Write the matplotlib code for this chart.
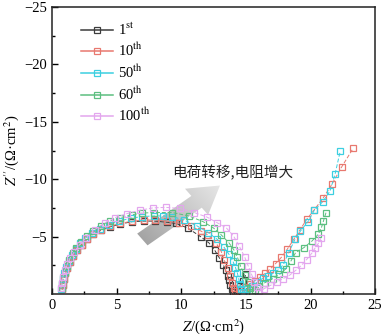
import numpy as np
import matplotlib
matplotlib.use("Agg")
import matplotlib.pyplot as plt
from matplotlib.patches import FancyArrow
from matplotlib.lines import Line2D
from matplotlib.colors import LinearSegmentedColormap

plt.rcParams['font.family'] = ['Liberation Serif', 'Noto Sans CJK SC', 'DejaVu Sans']
plt.rcParams['mathtext.fontset'] = 'stix'

# Nyquist data (Z' , Z'')
x_1st = [0.8, 0.85, 0.95, 1.05, 1.2, 1.4, 1.65, 1.95, 2.3, 2.7, 3.2, 3.8, 4.5, 5.3, 6.2, 7.1, 8.0, 8.9,
         9.6, 10.5, 11.5, 12.15, 12.6, 12.95, 13.25, 13.45, 13.6, 13.7, 13.8, 13.9, 14.0,
         14.3, 14.55, 14.8, 15.0]
y_1st = [-0.4, -0.8, -1.3, -1.8, -2.3, -2.8, -3.3, -3.8, -4.3, -4.75, -5.2, -5.55, -5.85, -6.1, -6.3, -6.35, -6.35, -6.25,
         -6.15, -5.75, -5.0, -4.45, -3.8, -3.15, -2.55, -2.05, -1.6, -1.2, -0.8, -0.4, -0.15,
         -0.3, -0.7, -1.15, -1.7]

x_10th = [0.8, 0.85, 0.95, 1.05, 1.2, 1.4, 1.65, 1.95, 2.3, 2.7, 3.2, 3.8, 4.5, 5.3, 6.2, 7.1, 8.0, 8.9,
          9.8, 10.75, 11.5, 12.05, 12.7, 13.1, 13.3, 13.6, 13.8, 13.95, 14.05, 14.15,
          14.5, 14.9, 15.3, 15.7, 16.1, 16.5, 16.9, 17.3, 17.75, 18.2, 18.7, 19.2, 19.7, 20.3,
          21.0, 21.65, 22.4, 23.3]
y_10th = [-0.4, -0.8, -1.3, -1.8, -2.3, -2.8, -3.3, -3.8, -4.3, -4.75, -5.2, -5.6, -5.9, -6.15, -6.35, -6.45, -6.45, -6.35,
          -6.2, -5.9, -5.5, -5.15, -4.45, -3.7, -3.0, -2.3, -1.6, -1.0, -0.55, -0.25,
          -0.4, -0.6, -0.85, -1.15, -1.45, -1.8, -2.2, -2.65, -3.2, -3.9, -4.75, -5.6, -6.5, -7.35,
          -8.4, -9.55, -11.05, -12.7]

x_50th = [0.7, 0.75, 0.85, 0.95, 1.1, 1.3, 1.55, 1.85, 2.2, 2.6, 3.1, 3.7, 4.4, 5.2, 6.1, 7.0, 7.9, 8.6,
          9.3, 10.2, 11.2, 12.1, 12.8, 13.3, 13.7, 14.0, 14.2, 14.35, 14.45, 14.55, 14.65, 14.75,
          15.1, 15.5, 15.9, 16.35, 16.75, 17.1, 17.5, 17.9, 18.3, 18.8, 19.2, 19.8, 20.3, 20.95,
          21.5, 21.9, 22.3]
y_50th = [-0.45, -0.85, -1.35, -1.85, -2.35, -2.9, -3.4, -3.9, -4.4, -4.85, -5.3, -5.7, -6.05, -6.35, -6.6, -6.75, -6.8, -6.8,
          -6.75, -6.45, -5.95, -5.35, -4.75, -4.1, -3.45, -2.85, -2.3, -1.8, -1.3, -0.85, -0.45, -0.2,
          -0.4, -0.7, -1.05, -1.4, -1.55, -1.8, -2.1, -2.55, -3.6, -4.75, -5.45, -6.3, -7.3, -8.05,
          -8.95, -10.45, -12.45]

x_60th = [0.75, 0.8, 0.9, 1.0, 1.15, 1.35, 1.6, 1.9, 2.25, 2.7, 3.2, 3.8, 4.5, 5.3, 6.2, 7.0, 7.9, 9.3,
          10.6, 11.7, 12.5, 13.1, 13.7, 14.1, 14.35, 14.6, 14.9, 15.15, 15.3, 15.45,
          15.7, 16.0, 16.5, 17.1, 17.6, 18.1, 18.5, 18.85, 19.5, 20.1, 20.6, 20.85, 21.0, 21.2]
y_60th = [-0.5, -0.9, -1.4, -1.9, -2.45, -3.0, -3.55, -4.05, -4.55, -5.05, -5.5, -5.95, -6.35, -6.65, -6.9, -7.05, -7.1, -7.1,
          -6.8, -6.3, -5.75, -5.15, -4.45, -3.8, -3.2, -2.4, -1.65, -1.05, -0.55, -0.2,
          -0.35, -0.7, -1.0, -1.35, -1.7, -2.2, -2.9, -3.6, -4.05, -4.6, -5.2, -5.8, -6.35, -7.1]

x_100th = [0.7, 0.75, 0.85, 1.0, 1.2, 1.4, 1.75, 2.15, 2.65, 3.3, 4.1, 4.9, 5.8, 6.8, 7.8, 8.8,
           9.9, 11.0, 12.0, 12.8, 13.5, 14.05, 14.5, 14.9, 15.2, 15.45, 15.65, 15.9, 16.05,
           16.4, 16.9, 17.4, 17.9, 18.4, 18.9, 19.3, 19.7, 20.1, 20.35, 20.6, 20.8]
y_100th = [-0.5, -1.0, -1.5, -2.1, -2.6, -3.1, -3.7, -4.3, -4.9, -5.6, -6.2, -6.65, -7.0, -7.3, -7.5, -7.55,
           -7.45, -7.1, -6.7, -6.2, -5.75, -5.05, -4.15, -3.25, -2.4, -1.7, -1.05, -0.6, -0.25,
           -0.45, -0.75, -1.05, -1.35, -1.65, -2.1, -2.5, -3.0, -3.55, -4.0, -4.4, -4.85]

labels = ['1$^{\\rm st}$', '10$^{\\rm th}$', '50$^{\\rm th}$', '60$^{\\rm th}$', '100$^{\\rm th}$']
colors = ['#3c3c3c', '#e8786f', '#3ccfe0', '#5cbf80', '#e3a6ee']
series = [(x_1st, y_1st), (x_10th, y_10th), (x_50th, y_50th), (x_60th, y_60th), (x_100th, y_100th)]

fig = plt.figure(figsize=(3.84, 3.36), dpi=100)
ax = fig.add_axes([0.135, 0.125, 0.842, 0.854])

for (xs, ys), c in zip(series, colors):
    ax.plot(xs, ys, color=c, lw=0.7, ls=(0, (4, 2)), marker='s', ms=4,
            mfc='none', mec=c, mew=0.9)

# gray arrow with gradient
tx, ty = 7.0, -4.75
hx, hy = 13.0, -9.45
arr = FancyArrow(tx, ty, hx - tx, hy - ty, width=1.3, head_width=2.9, head_length=2.3,
                 length_includes_head=True, fc='none', ec='none')
ax.add_patch(arr)
gx = np.linspace(5.5, 14.5, 200)
gy = np.linspace(-11.0, -3.0, 200)
GX, GY = np.meshgrid(gx, gy)
dx, dy = hx - tx, hy - ty
t = ((GX - tx) * dx + (GY - ty) * dy) / (dx * dx + dy * dy)
cmap = LinearSegmentedColormap.from_list('g', ['#a4a4a4', '#e6e6e6'])
im = ax.imshow(t, extent=(5.5, 14.5, -11.0, -3.0), origin='lower', cmap=cmap,
               vmin=0, vmax=1, aspect='auto', zorder=0.5)
im.set_clip_path(arr)

ax.text(9.3, -10.6, '电荷转移,电阻增大', fontsize=10.5, va='center', ha='left',
        family=['Noto Sans CJK SC', 'DejaVu Sans'], color='#222222')

ax.set_xlim(0, 25)
ax.set_ylim(0, -25)
ax.set_xticks([0, 5, 10, 15, 20, 25])
ax.set_yticks([-25, -20, -15, -10, -5])
ax.set_xticks(np.arange(2.5, 25, 5), minor=True)
ax.set_yticks(np.arange(-22.5, 0, 5), minor=True)
ax.tick_params(which='both', direction='in', top=False, right=False, labelsize=10.5)
ax.tick_params(which='major', length=4, width=1)
ax.tick_params(which='minor', length=2.5, width=1)
ax.yaxis.set_major_formatter(plt.FuncFormatter(lambda v, p: '\u2212%d' % abs(v) if v else '0'))
for s in ax.spines.values():
    s.set_linewidth(1.1)
    s.set_color('#222222')

ax.set_xlabel("$Z$/(Ω·cm$^2$)", fontsize=10.5, labelpad=4)
ax.set_ylabel("$Z''$/(Ω·cm$^2$)", fontsize=10.5, labelpad=2)

handles = [Line2D([], [], color=c, lw=1.1, marker='s', ms=4, mfc='none', mec=c, mew=0.9)
           for c in colors]
ax.legend(handles, labels, loc='upper left', bbox_to_anchor=(0.05, 0.995), frameon=False,
          fontsize=10.5, handlelength=2.2, labelspacing=0.3, handletextpad=0.3)

fig.savefig('out.png', dpi=100)
